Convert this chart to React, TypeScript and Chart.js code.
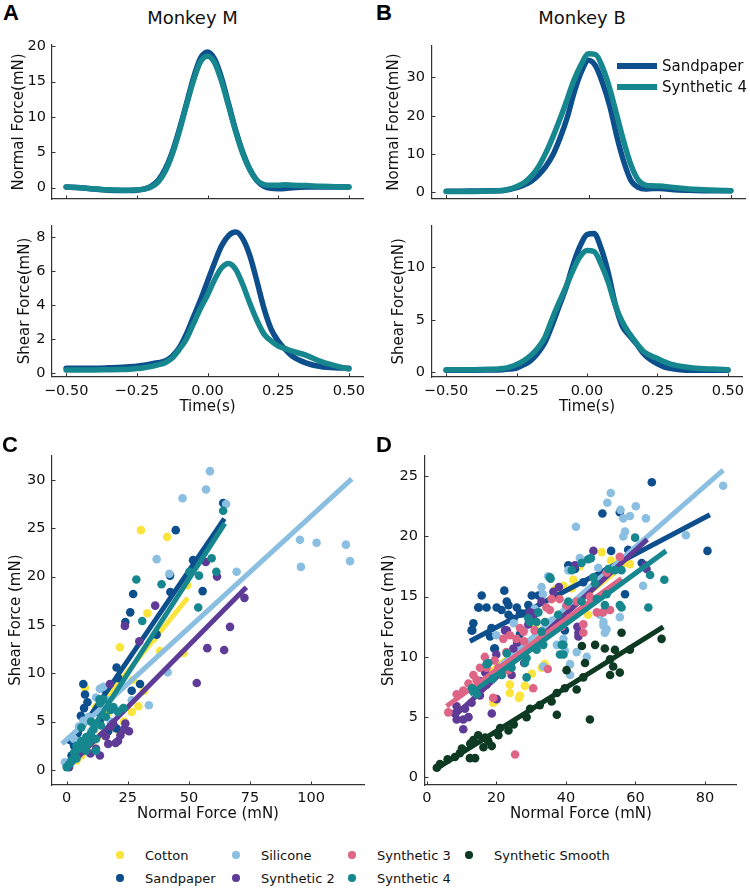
import React, { useEffect, useRef } from 'react';
import { Chart, registerables } from 'chart.js';
Chart.register(...registerables);

const FONT = "'DejaVu Sans', sans-serif";

// ---------------- Data: force traces (time in s) ----------------
const TIME = [-0.5, -0.45, -0.4, -0.35, -0.3, -0.275, -0.25, -0.225, -0.2, -0.175, -0.15, -0.125, -0.1, -0.075, -0.05, -0.025, 0, 0.025, 0.05, 0.075, 0.1, 0.125, 0.15, 0.175, 0.2, 0.225, 0.25, 0.275, 0.3, 0.35, 0.4, 0.45, 0.5];
const TIME_TICKS = [-0.5, -0.25, 0, 0.25, 0.5];
const TIME_TICK_LABELS = ['\u22120.50', '\u22120.25', '0.00', '0.25', '0.50'];

const M_NORMAL_SANDPAPER = [0.1, 0.0, -0.2, -0.35, -0.4, -0.4, -0.35, -0.2, 0.2, 1.0, 2.6, 5.0, 8.2, 11.8, 15.5, 18.3, 19.2, 18.2, 15.5, 11.8, 8.1, 5.0, 2.6, 1.0, 0.2, -0.1, -0.15, -0.1, 0.0, 0.1, 0.1, 0.1, 0.1];
const M_NORMAL_SYN4 = [0.1, 0.0, -0.15, -0.3, -0.35, -0.35, -0.3, -0.2, 0.1, 0.8, 2.3, 4.7, 7.9, 11.6, 15.1, 17.8, 18.6, 17.7, 15.0, 11.5, 7.9, 4.8, 2.5, 1.0, 0.45, 0.35, 0.35, 0.4, 0.35, 0.3, 0.2, 0.15, 0.1];
const M_SHEAR_SANDPAPER = [0.3, 0.3, 0.3, 0.32, 0.35, 0.38, 0.42, 0.48, 0.55, 0.62, 0.72, 1.0, 1.5, 2.3, 3.3, 4.3, 5.4, 6.5, 7.5, 8.1, 8.3, 7.9, 6.9, 5.4, 3.8, 2.6, 1.9, 1.4, 1.0, 0.6, 0.4, 0.32, 0.3];
const M_SHEAR_SYN4 = [0.2, 0.2, 0.2, 0.21, 0.22, 0.24, 0.28, 0.33, 0.4, 0.5, 0.62, 0.9, 1.4, 2.0, 2.9, 3.8, 4.6, 5.5, 6.2, 6.45, 6.1, 5.2, 4.1, 3.1, 2.3, 1.9, 1.6, 1.45, 1.3, 1.05, 0.7, 0.45, 0.25];
const B_NORMAL_SANDPAPER = [0.3, 0.3, 0.35, 0.4, 0.5, 0.8, 1.3, 2.0, 3.0, 4.6, 6.8, 9.8, 14.2, 19.5, 26.2, 31.5, 34.5, 33.0, 28.5, 22.5, 14.5, 7.8, 3.0, 1.3, 0.9, 1.0, 1.0, 0.85, 0.7, 0.55, 0.45, 0.4, 0.4];
const B_NORMAL_SYN4 = [0.2, 0.2, 0.25, 0.35, 0.5, 0.9, 1.6, 2.6, 4.3, 6.8, 10.3, 14.5, 19.2, 24.3, 29.5, 33.5, 36.2, 36.0, 32.5, 27.0, 20.0, 13.0, 7.0, 3.2, 1.9, 1.7, 1.65, 1.5, 1.3, 0.9, 0.7, 0.55, 0.45];
const B_SHEAR_SANDPAPER = [0.2, 0.2, 0.2, 0.22, 0.25, 0.3, 0.4, 0.7, 1.1, 1.8, 2.8, 4.4, 6.2, 8.0, 10.2, 12.0, 13.1, 13.2, 11.8, 9.5, 6.5, 4.4, 3.5, 2.7, 1.8, 1.2, 0.8, 0.5, 0.35, 0.2, 0.2, 0.2, 0.2];
const B_SHEAR_SYN4 = [0.25, 0.25, 0.25, 0.28, 0.35, 0.5, 0.75, 1.1, 1.6, 2.3, 3.3, 5.0, 6.6, 8.1, 9.7, 11.0, 11.6, 11.5, 10.3, 8.6, 6.4, 4.8, 3.7, 2.8, 2.0, 1.6, 1.3, 1.0, 0.75, 0.5, 0.35, 0.3, 0.25];

const A_TOP_Y_TICKS = [0, 5, 10, 15, 20];
const A_BOT_Y_TICKS = [0, 2, 4, 6, 8];
const B_TOP_Y_TICKS = [0, 10, 20, 30];
const B_BOT_Y_TICKS = [0, 5, 10];

// ---------------- Data: scatter (normal force, shear force) ----------------
const MATERIALS = ['Cotton', 'Sandpaper', 'Silicone', 'Synthetic 2', 'Synthetic 3', 'Synthetic 4', 'Synthetic Smooth'];
const COLORS = ['#fbe53c', '#0d4f8c', '#8bbfe2', '#5f3b98', '#de6586', '#16878f', '#0e3a23'];

type Pt = [number, number];

const C_COTTON: Pt[] = [[30.4, 24.8], [41.1, 24.1], [33.0, 16.2], [49.3, 19.1], [21.8, 12.7], [38.2, 12.3], [47.8, 12.1], [31.7, 8.2], [29.3, 6.6], [26.6, 6.0], [23.5, 5.0], [19.5, 4.4], [14.0, 3.6], [10.5, 2.8], [8.0, 2.2], [16.5, 5.8], [27.0, 9.3], [35.5, 13.6], [18.0, 7.6], [6.0, 1.5], [7.5, 8.5], [12.0, 6.5], [4.0, 1.0], [22.0, 3.8]];
const C_SANDPAPER: Pt[] = [[64.0, 27.6], [44.6, 24.8], [51.7, 21.7], [55.6, 18.5], [42.4, 18.4], [27.2, 18.2], [26.0, 16.3], [24.0, 15.3], [36.8, 14.0], [20.4, 10.6], [21.1, 9.5], [26.6, 8.2], [30.0, 8.9], [6.8, 8.9], [7.5, 7.8], [8.5, 7.0], [42.3, 20.1], [5.8, 5.6], [7.1, 6.4], [1.3, 3.1], [20.4, 4.3], [3.0, 2.5], [9.0, 5.2], [12.0, 6.0], [15.0, 8.4], [17.0, 4.0], [4.5, 3.8], [10.0, 3.0], [2.0, 1.5], [13.5, 5.0]];
const C_SILICONE: Pt[] = [[58.6, 30.9], [57.0, 29.0], [47.4, 28.1], [65.2, 27.5], [36.8, 21.8], [42.0, 20.3], [69.5, 20.5], [95.4, 23.8], [102.2, 23.5], [114.2, 23.3], [95.8, 21.0], [115.9, 21.6], [41.3, 10.1], [33.6, 6.7], [26.6, 7.2], [13.6, 8.4], [6.8, 5.1], [-0.7, 0.8], [15.0, 8.6], [12.0, 7.5], [9.0, 5.5], [5.0, 4.5], [18.0, 5.0], [22.0, 6.2], [3.0, 3.2], [10.0, 4.0], [16.5, 7.2]];
const C_SYN2: Pt[] = [[56.9, 21.5], [61.5, 20.0], [72.7, 17.8], [66.8, 14.8], [36.2, 17.0], [23.8, 14.9], [29.7, 13.3], [57.5, 12.6], [64.4, 12.4], [53.2, 9.0], [17.7, 8.9], [18.0, 4.5], [21.0, 3.0], [23.5, 4.2], [25.5, 4.0], [20.0, 2.8], [17.0, 2.7], [13.6, 1.5], [9.7, 1.7], [12.0, 2.2], [16.0, 3.5], [22.0, 3.6], [24.0, 4.8], [1.0, 0.3], [4.0, 1.5], [19.0, 4.8]];
const C_SYN4: Pt[] = [[28.5, 19.7], [38.8, 19.2], [59.3, 21.9], [61.2, 20.5], [54.1, 20.1], [50.2, 20.5], [64.0, 26.8], [53.8, 16.8], [30.9, 15.4], [13.4, 7.3], [15.0, 7.3], [19.1, 6.5], [23.2, 6.4], [13.6, 6.9], [0.0, 0.3], [1.0, 0.6], [2.0, 1.0], [3.0, 1.8], [4.0, 2.5], [5.0, 2.2], [6.0, 3.0], [7.0, 2.5], [8.0, 3.4], [9.0, 2.8], [10.0, 3.6], [11.0, 4.2], [12.0, 3.2], [14.0, 4.6], [6.0, 4.4], [8.0, 2.0], [4.0, 1.2], [16.0, 5.5], [18.0, 6.2], [21.0, 6.0], [10.0, 5.0], [12.0, 2.0]];

const C_FIT_COTTON: Pt[] = [[4, 3.7], [49.5, 17.8]];
const C_FIT_SANDPAPER: Pt[] = [[1.5, 2.6], [64.5, 26.0]];
const C_FIT_SILICONE: Pt[] = [[-1.9, 2.7], [116.6, 30.1]];
const C_FIT_SYN2: Pt[] = [[1.0, 0.4], [73.5, 18.9]];
const C_FIT_SYN4: Pt[] = [[0, 0.2], [64.7, 25.5]];

const C_X_TICKS = [0, 25, 50, 75, 100];
const C_Y_TICKS = [0, 5, 10, 15, 20, 25, 30];

const D_COTTON: Pt[] = [[19.1, 6.2], [23.9, 7.7], [26.5, 6.6], [23.9, 7.0], [28.2, 7.6], [33.0, 9.1], [33.9, 9.4], [26.8, 6.8], [30.2, 8.6], [19.6, 6.3], [39.3, 15.9], [41.7, 15.7], [46.4, 13.5], [50.3, 18.7], [58.4, 17.7], [42.1, 16.4], [36.9, 15.6], [37.8, 13.5], [34.0, 12.9], [28.0, 11.0], [25.0, 10.5], [31.0, 12.5], [44.0, 17.5], [53.0, 18.0], [22.0, 9.5], [20.0, 8.8], [36.0, 14.8]];
const D_SANDPAPER: Pt[] = [[64.7, 24.5], [50.5, 21.9], [55.5, 22.0], [53.0, 18.8], [57.9, 18.9], [80.7, 18.8], [61.8, 17.8], [40.7, 17.6], [42.6, 17.3], [57.0, 15.2], [30.2, 15.1], [32.1, 15.1], [13.4, 12.8], [13.1, 12.2], [15.8, 15.1], [15.0, 14.1], [17.2, 14.1], [20.1, 14.1], [22.3, 15.5], [23.0, 14.6], [23.5, 14.3], [25.9, 14.1], [27.4, 13.6], [29.2, 14.3], [40.2, 14.2], [45.0, 16.2], [39.7, 12.2], [23.5, 13.5], [21.5, 13.9], [18.6, 12.4], [18.2, 11.7], [24.9, 13.1], [26.8, 11.9], [19.6, 10.7], [19.4, 10.7], [12.9, 12.2], [14.8, 14.1], [24.4, 13.2], [26.8, 13.6]];
const D_SILICONE: Pt[] = [[85.2, 24.2], [52.9, 23.6], [51.9, 22.8], [55.7, 22.2], [58.4, 21.7], [60.1, 22.5], [63.0, 21.5], [56.5, 21.5], [42.9, 20.8], [57.0, 20.4], [56.5, 20.0], [74.5, 20.1], [62.2, 15.9], [50.8, 12.6], [44.0, 18.2], [40.7, 17.2], [49.3, 17.4], [55.5, 13.3], [51.2, 12.0], [33.0, 15.8], [33.4, 15.2], [50.8, 12.9], [51.7, 12.3], [39.3, 11.5], [37.4, 11.0], [43.1, 10.4], [41.2, 8.5], [49.8, 13.5], [39.7, 10.5], [41.2, 9.4], [46.0, 10.0], [33.5, 9.2], [34.9, 16.7], [46.0, 15.2], [28.0, 12.2], [20.0, 11.8], [31.0, 14.0], [48.0, 14.8], [36.0, 13.0], [25.0, 12.8]];
const D_SYN2: Pt[] = [[8.6, 4.8], [10.5, 4.8], [12.0, 5.0], [10.5, 4.0], [12.9, 6.2], [15.3, 6.8], [18.7, 5.3], [20.1, 6.5], [24.4, 8.5], [16.8, 8.7], [8.1, 5.3], [8.6, 5.9], [15.3, 8.0], [17.2, 7.7], [23.0, 12.2], [29.7, 13.7], [31.1, 13.6], [36.4, 15.4], [42.6, 17.6], [24.9, 10.7], [43.6, 11.7], [43.6, 12.0], [29.2, 12.7], [47.9, 18.8], [63.2, 17.3], [62.7, 17.6], [43.3, 12.5], [30.6, 13.4], [22.5, 12.2], [20.0, 10.2], [26.0, 11.2], [38.0, 15.8], [14.0, 7.2], [11.0, 5.7], [33.0, 14.6], [28.0, 9.5], [21.0, 9.0]];
const D_SYN3: Pt[] = [[6.2, 5.4], [25.4, 1.9], [19.1, 6.6], [30.6, 7.4], [34.8, 9.0], [8.6, 6.9], [10.5, 7.2], [14.3, 8.1], [17.2, 9.1], [19.5, 9.7], [22.9, 10.4], [20.6, 9.1], [23.5, 8.9], [22.0, 11.5], [23.9, 11.8], [25.8, 11.5], [27.8, 12.1], [29.7, 12.9], [35.4, 13.9], [40.2, 14.3], [43.1, 14.6], [48.9, 13.7], [51.3, 13.9], [35.9, 14.8], [26.8, 12.4], [34.4, 14.1], [38.2, 14.8], [15.3, 9.1], [16.7, 10.0], [13.4, 8.5], [55.5, 18.3], [51.7, 17.0], [50.7, 13.7], [45.0, 12.7], [45.0, 12.0], [38.8, 12.5], [46.9, 15.0], [52.7, 13.9], [12.0, 7.8], [28.0, 11.3], [31.0, 12.2], [41.0, 13.2]];
const D_SYN4: Pt[] = [[59.9, 19.9], [47.2, 18.2], [64.2, 16.8], [68.3, 16.4], [63.7, 14.1], [56.0, 17.2], [52.2, 17.3], [48.4, 16.1], [51.7, 15.2], [51.2, 14.3], [55.5, 14.3], [56.0, 14.1], [44.5, 17.8], [40.7, 14.6], [37.8, 13.5], [44.5, 14.6], [48.9, 14.8], [35.6, 16.5], [41.7, 17.2], [29.2, 13.2], [34.0, 12.9], [32.1, 13.7], [46.4, 18.1], [35.4, 16.6], [47.9, 16.6], [54.1, 17.2], [29.7, 12.9], [31.6, 12.9], [33.0, 12.1], [39.3, 11.0], [39.3, 10.2], [28.2, 9.5], [28.7, 8.3], [17.2, 9.4], [21.6, 8.5], [24.4, 9.1], [28.7, 9.9], [31.6, 10.6], [14.4, 6.9], [17.7, 9.5], [33.5, 11.0], [38.3, 10.2], [38.8, 11.0], [13.0, 7.4], [19.0, 8.2], [23.0, 10.3]];
const D_SMOOTH: Pt[] = [[2.9, 0.8], [3.8, 1.1], [8.1, 1.7], [10.1, 2.4], [12.5, 2.8], [12.4, 1.6], [13.9, 1.6], [14.8, 3.5], [16.3, 2.5], [17.7, 3.0], [18.7, 2.6], [20.6, 3.5], [21.1, 4.1], [23.5, 3.9], [28.7, 5.0], [29.7, 5.7], [37.4, 5.2], [37.4, 7.0], [39.7, 7.4], [40.2, 8.9], [43.1, 7.3], [45.5, 9.5], [45.0, 8.3], [46.9, 4.8], [44.6, 10.9], [48.4, 11.0], [51.2, 10.7], [52.7, 9.8], [52.7, 8.5], [55.5, 8.7], [53.6, 9.2], [54.1, 10.6], [58.4, 10.6], [35.9, 6.3], [16.8, 3.3], [13.4, 3.1], [56.0, 12.0], [67.5, 11.5], [6.0, 1.5], [9.5, 2.0], [25.0, 4.4], [32.5, 6.0]];

const D_FIT_COTTON: Pt[] = [[17, 8.5], [58.4, 18.0]];
const D_FIT_SANDPAPER: Pt[] = [[12.4, 11.3], [81.4, 21.8]];
const D_FIT_SILICONE: Pt[] = [[20, 9.0], [85.2, 25.5]];
const D_FIT_SYN2: Pt[] = [[7.6, 5.0], [63.4, 19.75]];
const D_FIT_SYN3: Pt[] = [[5.7, 5.9], [56.0, 16.5]];
const D_FIT_SYN4: Pt[] = [[12.4, 6.9], [68.8, 18.8]];
const D_FIT_SMOOTH: Pt[] = [[2.9, 0.74], [68.0, 12.5]];

const D_X_TICKS = [0, 20, 40, 60, 80];
const D_Y_TICKS = [0, 5, 10, 15, 20, 25];

// ---------------- Chart helpers ----------------
const inTicks = {
  id: 'inTicks',
  afterDatasetsDraw(chart: any) {
    const { ctx, chartArea: a } = chart;
    const xs = chart.scales.x, ys = chart.scales.y;
    ctx.save();
    ctx.strokeStyle = '#333';
    ctx.lineWidth = 1;
    ctx.beginPath();
    xs.ticks.forEach((t: any) => {
      const p = Math.round(xs.getPixelForValue(t.value)) + 0.5;
      ctx.moveTo(p, a.bottom);
      ctx.lineTo(p, a.bottom - 3.5);
    });
    ys.ticks.forEach((t: any) => {
      const p = Math.round(ys.getPixelForValue(t.value)) + 0.5;
      ctx.moveTo(a.left, p);
      ctx.lineTo(a.left + 3.5, p);
    });
    ctx.stroke();
    ctx.restore();
  },
};

interface PanelSpec {
  canvas: { left: number; top: number; width: number; height: number };
  area: { l: number; t: number; r: number; b: number };
  xRange: [number, number];
  yRange: [number, number];
  xTicks: number[];
  xLabels: string[] | null;
  yTicks: number[];
  xTitle: string | null;
  yTitle: string;
  yTitleX: number;
  xTitleY: number;
  xTickPad: number;
  yTickPad: number;
  datasets: any[];
}

function buildConfig(p: PanelSpec): any {
  const c = p.canvas, a = p.area;
  const yWidth = a.l - c.left;
  const padTop = a.t - c.top;
  const padRight = c.left + c.width - a.r;
  const xHeight = c.top + c.height - a.b;
  const lh = 18;
  const tickFont = { family: FONT, size: 14.5 };
  const titleFont = { family: FONT, size: 15 };
  return {
    type: 'scatter',
    data: { datasets: p.datasets },
    options: {
      responsive: false,
      animation: false,
      devicePixelRatio: 1,
      events: [],
      layout: { padding: { left: 0, top: padTop, right: padRight, bottom: 0 } },
      plugins: { legend: { display: false }, tooltip: { enabled: false } },
      scales: {
        x: {
          type: 'linear',
          min: p.xRange[0],
          max: p.xRange[1],
          grid: { display: false, drawTicks: false },
          border: { display: true, color: '#333', width: 1.2 },
          afterBuildTicks: (s: any) => { s.ticks = p.xTicks.map((v) => ({ value: v })); },
          afterFit: (s: any) => { s.height = xHeight; },
          ticks: {
            display: !!p.xLabels,
            padding: p.xTickPad,
            autoSkip: false,
            maxRotation: 0,
            color: '#111',
            font: tickFont,
            callback: (_v: any, i: number) => (p.xLabels ? p.xLabels[i] : ''),
          },
          title: {
            display: !!p.xTitle,
            text: p.xTitle || '',
            color: '#111',
            font: titleFont,
            padding: { top: 0, bottom: c.top + c.height - p.xTitleY - lh / 2 },
          },
        },
        y: {
          type: 'linear',
          min: p.yRange[0],
          max: p.yRange[1],
          grid: { display: false, drawTicks: false },
          border: { display: true, color: '#333', width: 1.2 },
          afterBuildTicks: (s: any) => { s.ticks = p.yTicks.map((v) => ({ value: v })); },
          afterFit: (s: any) => { s.width = yWidth; },
          ticks: {
            padding: p.yTickPad,
            autoSkip: false,
            color: '#111',
            font: tickFont,
            callback: (v: any) => String(v),
          },
          title: {
            display: true,
            text: p.yTitle,
            color: '#111',
            font: titleFont,
            padding: { top: p.yTitleX - c.left - lh / 2, bottom: 0 },
          },
        },
      },
    },
    plugins: [inTicks],
  };
}

function traceDataset(values: number[], color: string, order: number) {
  return {
    data: TIME.map((t, i) => ({ x: t, y: values[i] })),
    showLine: true,
    borderColor: color,
    backgroundColor: color,
    borderWidth: 5.5,
    pointRadius: 0,
    cubicInterpolationMode: 'monotone',
    borderCapStyle: 'round',
    borderJoinStyle: 'round',
    order,
  };
}

function scatterSets(groups: { idx: number; pts: Pt[]; fit: Pt[] }[]) {
  const out: any[] = [];
  groups.forEach((g) => {
    const color = COLORS[g.idx];
    const base = 100 - g.idx * 2;
    out.push({
      label: MATERIALS[g.idx],
      data: g.pts.map(([x, y]) => ({ x, y })),
      pointRadius: 4.3,
      pointBorderWidth: 0,
      backgroundColor: color,
      borderColor: color,
      showLine: false,
      order: base,
    });
    out.push({
      label: MATERIALS[g.idx] + ' fit',
      data: g.fit.map(([x, y]) => ({ x, y })),
      showLine: true,
      pointRadius: 0,
      borderWidth: 5,
      borderColor: color,
      backgroundColor: color,
      order: base - 1,
    });
  });
  return out;
}

const PANELS: PanelSpec[] = [
  {
    canvas: { left: 0, top: 30, width: 375, height: 190 },
    area: { l: 52, t: 45, r: 363, b: 199 },
    xRange: [-0.55, 0.55], yRange: [-1.6, 20.2],
    xTicks: TIME_TICKS, xLabels: null, yTicks: A_TOP_Y_TICKS,
    xTitle: null, yTitle: 'Normal Force(mN)', yTitleX: 19.5, xTitleY: 0,
    xTickPad: 6, yTickPad: 6,
    datasets: [traceDataset(M_NORMAL_SANDPAPER, COLORS[1], 2), traceDataset(M_NORMAL_SYN4, COLORS[5], 1)],
  },
  {
    canvas: { left: 0, top: 210, width: 375, height: 215 },
    area: { l: 52, t: 222, r: 363, b: 376.7 },
    xRange: [-0.55, 0.55], yRange: [-0.2, 8.7],
    xTicks: TIME_TICKS, xLabels: TIME_TICK_LABELS, yTicks: A_BOT_Y_TICKS,
    xTitle: 'Time(s)', yTitle: 'Shear Force(mN)', yTitleX: 25.5, xTitleY: 407,
    xTickPad: 6, yTickPad: 6.5,
    datasets: [traceDataset(M_SHEAR_SANDPAPER, COLORS[1], 2), traceDataset(M_SHEAR_SYN4, COLORS[5], 1)],
  },
  {
    canvas: { left: 375, top: 30, width: 375, height: 190 },
    area: { l: 432, t: 45, r: 745, b: 198.5 },
    xRange: [-0.55, 0.55], yRange: [-1.6, 38.3],
    xTicks: TIME_TICKS, xLabels: null, yTicks: B_TOP_Y_TICKS,
    xTitle: null, yTitle: 'Normal Force(mN)', yTitleX: 394.5, xTitleY: 0,
    xTickPad: 6, yTickPad: 7,
    datasets: [traceDataset(B_NORMAL_SANDPAPER, COLORS[1], 2), traceDataset(B_NORMAL_SYN4, COLORS[5], 1)],
  },
  {
    canvas: { left: 375, top: 210, width: 375, height: 215 },
    area: { l: 432, t: 223, r: 745, b: 377 },
    xRange: [-0.55, 0.55], yRange: [-0.45, 13.95],
    xTicks: TIME_TICKS, xLabels: TIME_TICK_LABELS, yTicks: B_BOT_Y_TICKS,
    xTitle: 'Time(s)', yTitle: 'Shear Force(mN)', yTitleX: 399, xTitleY: 407,
    xTickPad: 5.7, yTickPad: 7,
    datasets: [traceDataset(B_SHEAR_SANDPAPER, COLORS[1], 2), traceDataset(B_SHEAR_SYN4, COLORS[5], 1)],
  },
  {
    canvas: { left: 0, top: 440, width: 375, height: 385 },
    area: { l: 52, t: 451.7, r: 364, b: 785 },
    xRange: [-6, 121.6], yRange: [-1.55, 32.55],
    xTicks: C_X_TICKS, xLabels: C_X_TICKS.map(String), yTicks: C_Y_TICKS,
    xTitle: 'Normal Force (mN)', yTitle: 'Shear Force (mN)', yTitleX: 16, xTitleY: 814,
    xTickPad: 4.7, yTickPad: 6.5,
    datasets: scatterSets([
      { idx: 0, pts: C_COTTON, fit: C_FIT_COTTON },
      { idx: 1, pts: C_SANDPAPER, fit: C_FIT_SANDPAPER },
      { idx: 2, pts: C_SILICONE, fit: C_FIT_SILICONE },
      { idx: 3, pts: C_SYN2, fit: C_FIT_SYN2 },
      { idx: 5, pts: C_SYN4, fit: C_FIT_SYN4 },
    ]),
  },
  {
    canvas: { left: 375, top: 440, width: 375, height: 385 },
    area: { l: 425, t: 451.7, r: 736.7, b: 785 },
    xRange: [-0.5, 89.1], yRange: [-0.63, 26.7],
    xTicks: D_X_TICKS, xLabels: D_X_TICKS.map(String), yTicks: D_Y_TICKS,
    xTitle: 'Normal Force (mN)', yTitle: 'Shear Force (mN)', yTitleX: 389.5, xTitleY: 814,
    xTickPad: 4.7, yTickPad: 7,
    datasets: scatterSets([
      { idx: 0, pts: D_COTTON, fit: D_FIT_COTTON },
      { idx: 1, pts: D_SANDPAPER, fit: D_FIT_SANDPAPER },
      { idx: 2, pts: D_SILICONE, fit: D_FIT_SILICONE },
      { idx: 3, pts: D_SYN2, fit: D_FIT_SYN2 },
      { idx: 4, pts: D_SYN3, fit: D_FIT_SYN3 },
      { idx: 5, pts: D_SYN4, fit: D_FIT_SYN4 },
      { idx: 6, pts: D_SMOOTH, fit: D_FIT_SMOOTH },
    ]),
  },
];

function Panel({ spec }: { spec: PanelSpec }) {
  const ref = useRef<HTMLCanvasElement>(null);
  useEffect(() => {
    const chart = new Chart(ref.current as HTMLCanvasElement, buildConfig(spec));
    return () => chart.destroy();
  }, [spec]);
  const c = spec.canvas;
  return (
    <canvas
      ref={ref}
      width={c.width}
      height={c.height}
      style={{ position: 'absolute', left: c.left, top: c.top, width: c.width, height: c.height }}
    />
  );
}

const LETTER_STYLE: React.CSSProperties = {
  position: 'absolute',
  font: "bold 22px 'Liberation Sans', Arial, sans-serif",
  lineHeight: '22px',
  color: '#000',
};

function Centered({ x, y, size, children }: { x: number; y: number; size: number; children: React.ReactNode }) {
  return (
    <div style={{ position: 'absolute', left: x, top: y, transform: 'translate(-50%,-50%)', fontSize: size, lineHeight: 1, whiteSpace: 'nowrap', color: '#111' }}>
      {children}
    </div>
  );
}

const LEGEND_COLS = [120, 236, 352, 469];
const LEGEND_ROWS = [855, 878];
const LEGEND_LAYOUT: [number, number][] = [[0, 0], [0, 1], [1, 0], [1, 1], [2, 0], [2, 1], [3, 0]];

export default function App() {
  return (
    <div style={{ position: 'absolute', left: 0, top: 0, width: 750, height: 890, background: '#fff', overflow: 'hidden', fontFamily: FONT }}>
      {PANELS.map((p, i) => (
        <Panel key={i} spec={p} />
      ))}
      <div style={{ ...LETTER_STYLE, left: 3, top: 2 }}>A</div>
      <div style={{ ...LETTER_STYLE, left: 376, top: 2 }}>B</div>
      <div style={{ ...LETTER_STYLE, left: 2, top: 434 }}>C</div>
      <div style={{ ...LETTER_STYLE, left: 376, top: 434 }}>D</div>
      <Centered x={192.5} y={18} size={18}>Monkey M</Centered>
      <Centered x={582} y={18} size={18}>Monkey B</Centered>

      {/* Panel B legend */}
      {[
        { name: MATERIALS[1], color: COLORS[1], y: 66 },
        { name: MATERIALS[5], color: COLORS[5], y: 87 },
      ].map((it) => (
        <React.Fragment key={it.name}>
          <div style={{ position: 'absolute', left: 617, top: it.y - 2.75, width: 40, height: 5.5, background: it.color }} />
          <div style={{ position: 'absolute', left: 662, top: it.y, transform: 'translateY(-50%)', fontSize: 15, lineHeight: 1, whiteSpace: 'nowrap', color: '#111' }}>{it.name}</div>
        </React.Fragment>
      ))}

      {/* Bottom legend */}
      {MATERIALS.map((m, i) => {
        const [col, row] = LEGEND_LAYOUT[i];
        const cx = LEGEND_COLS[col];
        const cy = LEGEND_ROWS[row];
        return (
          <React.Fragment key={m}>
            <div style={{ position: 'absolute', left: cx - 3.7, top: cy - 3.7, width: 7.4, height: 7.4, borderRadius: '50%', background: COLORS[i] }} />
            <div style={{ position: 'absolute', left: cx + 25, top: cy, transform: 'translateY(-50%)', fontSize: 13, lineHeight: 1, whiteSpace: 'nowrap', color: '#111' }}>{m}</div>
          </React.Fragment>
        );
      })}
    </div>
  );
}
